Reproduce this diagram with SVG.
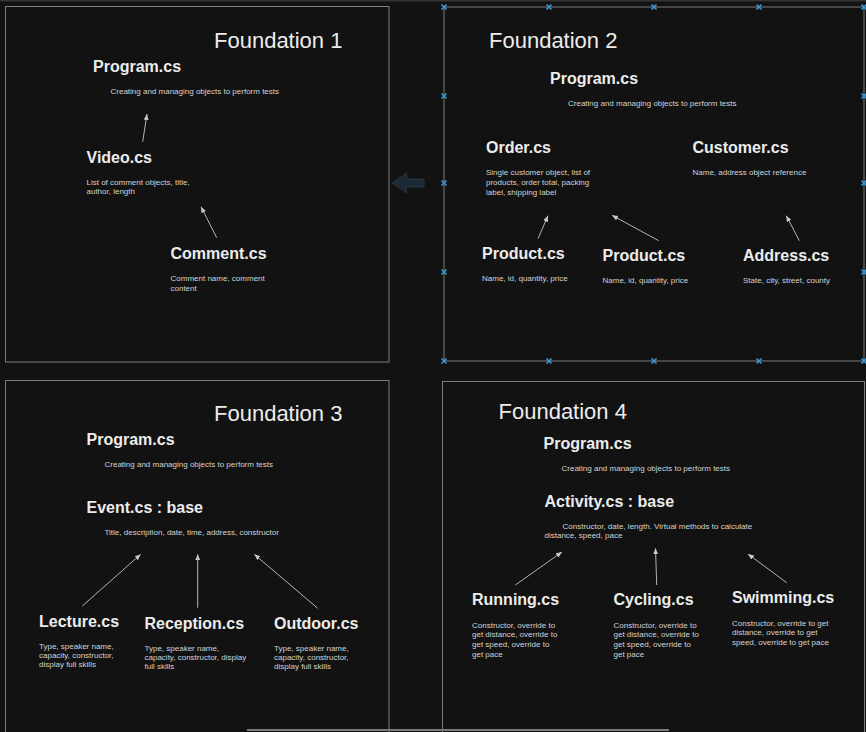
<svg xmlns="http://www.w3.org/2000/svg" width="866" height="732" viewBox="0 0 866 732">
<style>
.frame{fill:#121212;stroke:#7d7d7d;stroke-width:1}
.ft{font-family:"Liberation Sans",Arial,sans-serif;font-size:22px;fill:#ececec}
.nt{font-family:"Liberation Sans",Arial,sans-serif;font-size:16px;font-weight:bold;fill:#ececec}
.dt{font-family:"Liberation Sans",Arial,sans-serif;font-size:8px;fill:#d2d2d2}
.con{stroke:#b4b4b4;stroke-width:1;fill:none;marker-end:url(#ah)}
.h{stroke:#3d9ad6;stroke-width:1.6;fill:none}
</style>
<defs>
<marker id="ah" markerUnits="userSpaceOnUse" markerWidth="7" markerHeight="6" refX="6" refY="2.5" orient="auto">
<path d="M0,0 L6,2.5 L0,5 z" fill="#c8c8c8"/>
</marker>
<path id="x" d="M-2.5,-2.5 L2.5,2.5 M-2.5,2.5 L2.5,-2.5"/>
</defs>
<rect x="0" y="0" width="866" height="732" fill="#121212"/>
<rect x="0" y="0" width="866" height="1.5" fill="#333"/>

<g id="frames">
<rect class="frame" x="5.5" y="6.5" width="383.5" height="355.5"/>
<rect class="frame" x="444" y="7" width="420" height="354"/>
<rect class="frame" x="5.5" y="380.5" width="383.5" height="360"/>
<rect class="frame" x="442.5" y="381.5" width="422" height="360"/>
</g>

<g id="titles">
<text class="ft" x="214" y="48">Foundation 1</text>
<text class="ft" x="489" y="48">Foundation 2</text>
<text class="ft" x="214" y="420.5">Foundation 3</text>
<text class="ft" x="498.5" y="419">Foundation 4</text>
</g>

<!-- Foundation 1 -->
<g id="f1-program">
<text class="nt" x="93" y="71.5">Program.cs</text>
<text class="dt" x="110.5" y="94">Creating and managing objects to perform tests</text>
</g>
<g id="f1-video">
<text class="nt" x="86.5" y="162.5">Video.cs</text>
<text class="dt" x="86.5" y="185">List of comment objects, title,</text>
<text class="dt" x="86.5" y="194">author, length</text>
</g>
<g id="f1-comment">
<text class="nt" x="170.5" y="258.5">Comment.cs</text>
<text class="dt" x="170.5" y="281">Comment name, comment</text>
<text class="dt" x="170.5" y="290.5">content</text>
</g>

<!-- Foundation 2 -->
<g id="f2-program">
<text class="nt" x="550" y="84">Program.cs</text>
<text class="dt" x="568" y="106">Creating and managing objects to perform tests</text>
</g>
<g id="f2-order">
<text class="nt" x="486" y="152.5">Order.cs</text>
<text class="dt" x="486" y="175">Single customer object, list of</text>
<text class="dt" x="486" y="185">products, order total, packing</text>
<text class="dt" x="486" y="195">label, shipping label</text>
</g>
<g id="f2-customer">
<text class="nt" x="692.5" y="152.5">Customer.cs</text>
<text class="dt" x="692.5" y="175">Name, address object reference</text>
</g>
<g id="f2-product1">
<text class="nt" x="482" y="258.5">Product.cs</text>
<text class="dt" x="482" y="281">Name, id, quantity, price</text>
</g>
<g id="f2-product2">
<text class="nt" x="602.5" y="260.5">Product.cs</text>
<text class="dt" x="602.5" y="283">Name, id, quantity, price</text>
</g>
<g id="f2-address">
<text class="nt" x="743" y="260.5">Address.cs</text>
<text class="dt" x="743" y="283">State, city, street, county</text>
</g>

<!-- Foundation 3 -->
<g id="f3-program">
<text class="nt" x="86.5" y="445">Program.cs</text>
<text class="dt" x="104.5" y="466.5">Creating and managing objects to perform tests</text>
</g>
<g id="f3-event">
<text class="nt" x="86.5" y="512.5">Event.cs : base</text>
<text class="dt" x="104.5" y="534.5">Title, description, date, time, address, constructor</text>
</g>
<g id="f3-lecture">
<text class="nt" x="39" y="626.5">Lecture.cs</text>
<text class="dt" x="39" y="648.5">Type, speaker name,</text>
<text class="dt" x="39" y="657.5">capacity, constructor,</text>
<text class="dt" x="39" y="667">display full skills</text>
</g>
<g id="f3-reception">
<text class="nt" x="144.5" y="628.5">Reception.cs</text>
<text class="dt" x="144.5" y="650.5">Type, speaker name,</text>
<text class="dt" x="144.5" y="659.5">capacity, constructor, display</text>
<text class="dt" x="144.5" y="669">full skills</text>
</g>
<g id="f3-outdoor">
<text class="nt" x="274" y="628.5">Outdoor.cs</text>
<text class="dt" x="274" y="650.5">Type, speaker name,</text>
<text class="dt" x="274" y="659.5">capacity, constructor,</text>
<text class="dt" x="274" y="669">display full skills</text>
</g>

<!-- Foundation 4 -->
<g id="f4-program">
<text class="nt" x="543.5" y="448.5">Program.cs</text>
<text class="dt" x="561.5" y="470.5">Creating and managing objects to perform tests</text>
</g>
<g id="f4-activity">
<text class="nt" x="544.5" y="506.5">Activity.cs : base</text>
<text class="dt" x="562.5" y="528.5">Constructor, date, length. Virtual methods to calculate</text>
<text class="dt" x="544.5" y="537.5">distance, speed, pace</text>
</g>
<g id="f4-running">
<text class="nt" x="472" y="605">Running.cs</text>
<text class="dt" x="472" y="627.5">Constructor, override to</text>
<text class="dt" x="472" y="637">get distance, override to</text>
<text class="dt" x="472" y="646.5">get speed, override to</text>
<text class="dt" x="472" y="656.5">get pace</text>
</g>
<g id="f4-cycling">
<text class="nt" x="613.5" y="605">Cycling.cs</text>
<text class="dt" x="613.5" y="627.5">Constructor, override to</text>
<text class="dt" x="613.5" y="637">get distance, override to</text>
<text class="dt" x="613.5" y="646.5">get speed, override to</text>
<text class="dt" x="613.5" y="656.5">get pace</text>
</g>
<g id="f4-swimming">
<text class="nt" x="732" y="602.5">Swimming.cs</text>
<text class="dt" x="732" y="625.5">Constructor, override to get</text>
<text class="dt" x="732" y="634.5">distance, override to get</text>
<text class="dt" x="732" y="644.5">speed, override to get pace</text>
</g>

<g id="connectors">
<line class="con" x1="142.7" y1="141.7" x2="147" y2="114"/>
<line class="con" x1="216.7" y1="237.7" x2="201" y2="206.7"/>
<line class="con" x1="538" y1="238.7" x2="548" y2="215.7"/>
<line class="con" x1="658.7" y1="240.7" x2="612" y2="215.3"/>
<line class="con" x1="799.3" y1="240.7" x2="786.3" y2="215.7"/>
<line class="con" x1="82.3" y1="606" x2="140.7" y2="554.3"/>
<line class="con" x1="197.7" y1="607.7" x2="197.7" y2="554.3"/>
<line class="con" x1="317.7" y1="608.3" x2="254.3" y2="554.3"/>
<line class="con" x1="515.3" y1="585" x2="562" y2="552"/>
<line class="con" x1="656.7" y1="585" x2="655.5" y2="548.3"/>
<line class="con" x1="786.7" y1="582.7" x2="748" y2="554"/>
</g>

<g id="nav-arrow">
<path d="M392,183 L406.5,173 L406.5,179 L424,179 L424,187 L406.5,187 L406.5,193 Z" fill="#1d2a35" stroke="#26343f" stroke-width="1"/>
</g>

<g id="handles" class="h">
<use href="#x" x="444" y="7"/><use href="#x" x="549" y="7"/><use href="#x" x="654" y="7"/><use href="#x" x="759" y="7"/><use href="#x" x="864" y="7"/>
<use href="#x" x="444" y="96"/><use href="#x" x="864" y="96"/>
<use href="#x" x="444" y="183"/><use href="#x" x="864" y="183"/>
<use href="#x" x="444" y="272"/><use href="#x" x="864" y="272"/>
<use href="#x" x="444" y="361"/><use href="#x" x="549" y="361"/><use href="#x" x="654" y="361"/><use href="#x" x="759" y="361"/><use href="#x" x="864" y="361"/>
</g>

<rect x="247" y="729" width="422" height="2" fill="#7a7a7a"/>
</svg>
